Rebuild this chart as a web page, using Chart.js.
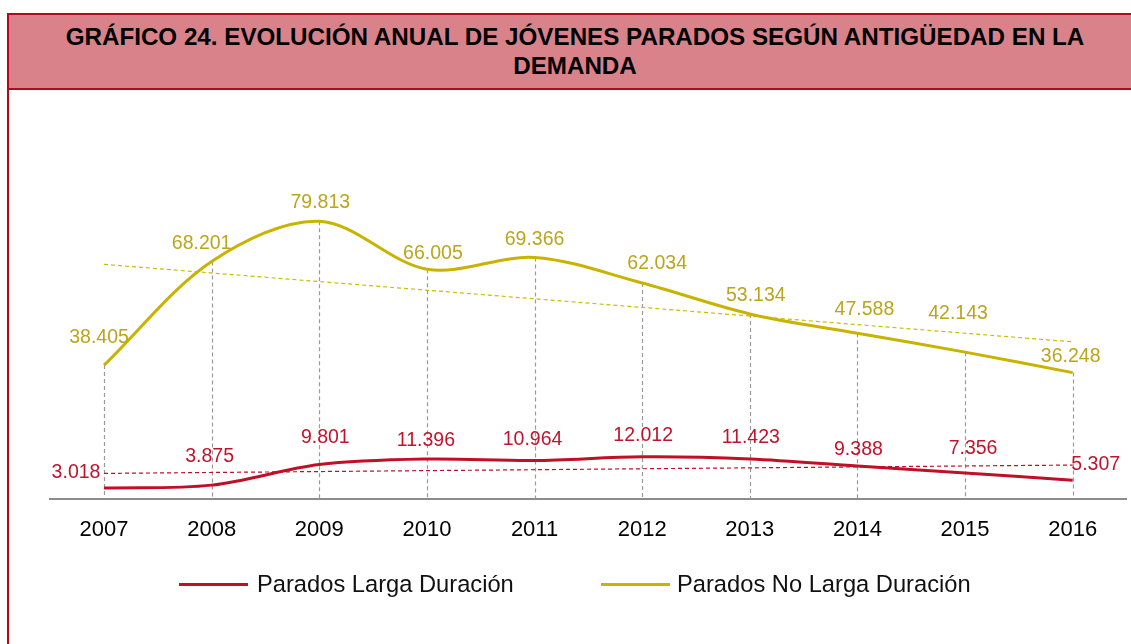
<!DOCTYPE html>
<html lang="es">
<head>
<meta charset="utf-8">
<title>Gráfico 24</title>
<script src="https://cdn.jsdelivr.net/npm/chart.js@4.4.1/dist/chart.umd.min.js"></script>
<style>
  html, body { margin: 0; padding: 0; background: #fff; }
  body { font-family: "Liberation Sans", Arial, sans-serif; position: relative; width: 1131px; height: 644px; overflow: hidden; }
  #frame { position: absolute; left: 7px; top: 13px; width: 1124px; height: 640px;
           border: 2px solid #b3081e; border-right: none; border-bottom: none; box-sizing: border-box; }
  #title { height: 75px; box-sizing: border-box; background: #d9828a; border-bottom: 2px solid #b3081e;
           padding-top: 7px; color: #000; }
  #title div { width: 1132px; text-align: center; font-weight: bold; font-size: 24.2px; line-height: 29px; }
  #chart { position: absolute; left: 0; top: 0; }
  .leg { position: absolute; top: 570px; font-size: 23.7px; line-height: 28px; color: #111; white-space: nowrap; }
  .leg i { position: absolute; top: 13px; height: 3px; }
</style>
</head>
<body>
<div id="frame">
  <div id="title"><div>GRÁFICO 24. EVOLUCIÓN ANUAL DE JÓVENES PARADOS SEGÚN ANTIGÜEDAD EN LA<br>DEMANDA</div></div>
</div>
<canvas id="chart" width="1131" height="644"></canvas>
<div class="leg" style="left:257px"><i style="left:-78px;width:69px;background:#c01028"></i>Parados Larga Duración</div>
<div class="leg" style="left:677px"><i style="left:-76px;width:69px;background:#c8b400"></i>Parados No Larga Duración</div>
<script>
// values
const YEARS = ["2007", "2008", "2009", "2010", "2011", "2012", "2013", "2014", "2015", "2016"];
const LARGA = [3.018, 3.875, 9.801, 11.396, 10.964, 12.012, 11.423, 9.388, 7.356, 5.307];
const NO_LARGA = [38.405, 68.201, 79.813, 66.005, 69.366, 62.034, 53.134, 47.588, 42.143, 36.248];
// dashed linear trend lines, end values as drawn
const TREND_LARGA = [7.25, null, null, null, null, null, null, null, null, 9.65];
const TREND_NO_LARGA = [67.4, null, null, null, null, null, null, null, null, 45.1];
const LABELS_LARGA = ["3.018", "3.875", "9.801", "11.396", "10.964", "12.012", "11.423", "9.388", "7.356", "5.307"];
const LABELS_NO_LARGA = ["38.405", "68.201", "79.813", "66.005", "69.366", "62.034", "53.134", "47.588", "42.143", "36.248"];

const RED = "#c01028";
const YELLOW = "#c8b400";
const FONT = '"Liberation Sans", Arial, sans-serif';

// where each value label sits relative to its point (px)
const SHIFT_LARGA = [[-28, -15], [-2, -29], [6, -27], [-1, -18], [-2, -21], [1, -21], [1, -21], [1, -16], [8, -24], [23, -16]];
const SHIFT_NO_LARGA = [[-5, -27], [-10, -18], [1, -19], [6, -16], [0, -18], [15, -19], [6, -18], [7, -24], [-7, -39], [-2, -16]];

const dropLines = {
  id: "dropLines",
  beforeDatasetsDraw(chart) {
    const { ctx, chartArea } = chart;
    const x = chart.scales.x, y = chart.scales.y;
    ctx.save();
    ctx.strokeStyle = "#9a9a9a";
    ctx.lineWidth = 1.2;
    ctx.setLineDash([4, 3]);
    NO_LARGA.forEach((v, i) => {
      const px = Math.round(x.getPixelForValue(i)) + 0.5;
      ctx.beginPath();
      ctx.moveTo(px, y.getPixelForValue(v));
      ctx.lineTo(px, chartArea.bottom);
      ctx.stroke();
    });
    ctx.restore();
  },
};

const valueLabels = {
  id: "valueLabels",
  afterDatasetsDraw(chart) {
    const { ctx } = chart;
    const x = chart.scales.x, y = chart.scales.y;
    ctx.save();
    ctx.font = `19.5px ${FONT}`;
    ctx.textAlign = "center";
    ctx.textBaseline = "middle";
    const put = (vals, texts, shift, color) => {
      ctx.fillStyle = color;
      vals.forEach((v, i) => {
        ctx.fillText(texts[i], x.getPixelForValue(i) + shift[i][0], y.getPixelForValue(v) + shift[i][1]);
      });
    };
    put(NO_LARGA, LABELS_NO_LARGA, SHIFT_NO_LARGA, "#bba51a");
    put(LARGA, LABELS_LARGA, SHIFT_LARGA, "#c0142c");
    ctx.restore();
  },
};

new Chart(document.getElementById("chart"), {
  type: "line",
  data: {
    labels: YEARS,
    datasets: [
      { label: "Parados Larga Duración", data: LARGA, borderColor: RED, borderWidth: 3,
        pointRadius: 0, tension: 0.33, order: 1 },
      { label: "Parados No Larga Duración", data: NO_LARGA, borderColor: YELLOW, borderWidth: 3,
        pointRadius: 0, tension: 0.33, order: 1 },
      { label: "_trend larga", data: TREND_LARGA, borderColor: RED, borderWidth: 1.2, borderDash: [4, 3],
        pointRadius: 0, spanGaps: true, tension: 0, order: 2 },
      { label: "_trend no larga", data: TREND_NO_LARGA, borderColor: "#d0bb00", borderWidth: 1.2, borderDash: [4, 3],
        pointRadius: 0, spanGaps: true, tension: 0, order: 2 },
    ],
  },
  options: {
    responsive: false,
    animation: false,
    layout: { padding: { top: 185.8, left: 50.2, right: 4.5, bottom: 83 } },
    scales: {
      x: {
        offset: true,
        grid: { display: false, drawTicks: false },
        border: { display: true, color: "#8c8c8c", width: 2 },
        ticks: { color: "#000", padding: 18, font: { family: FONT, size: 22 } },
      },
      y: { display: false, min: 0, max: 90 },
    },
    plugins: { legend: { display: false }, tooltip: { enabled: false } },
  },
  plugins: [dropLines, valueLabels],
});
</script>
</body>
</html>
